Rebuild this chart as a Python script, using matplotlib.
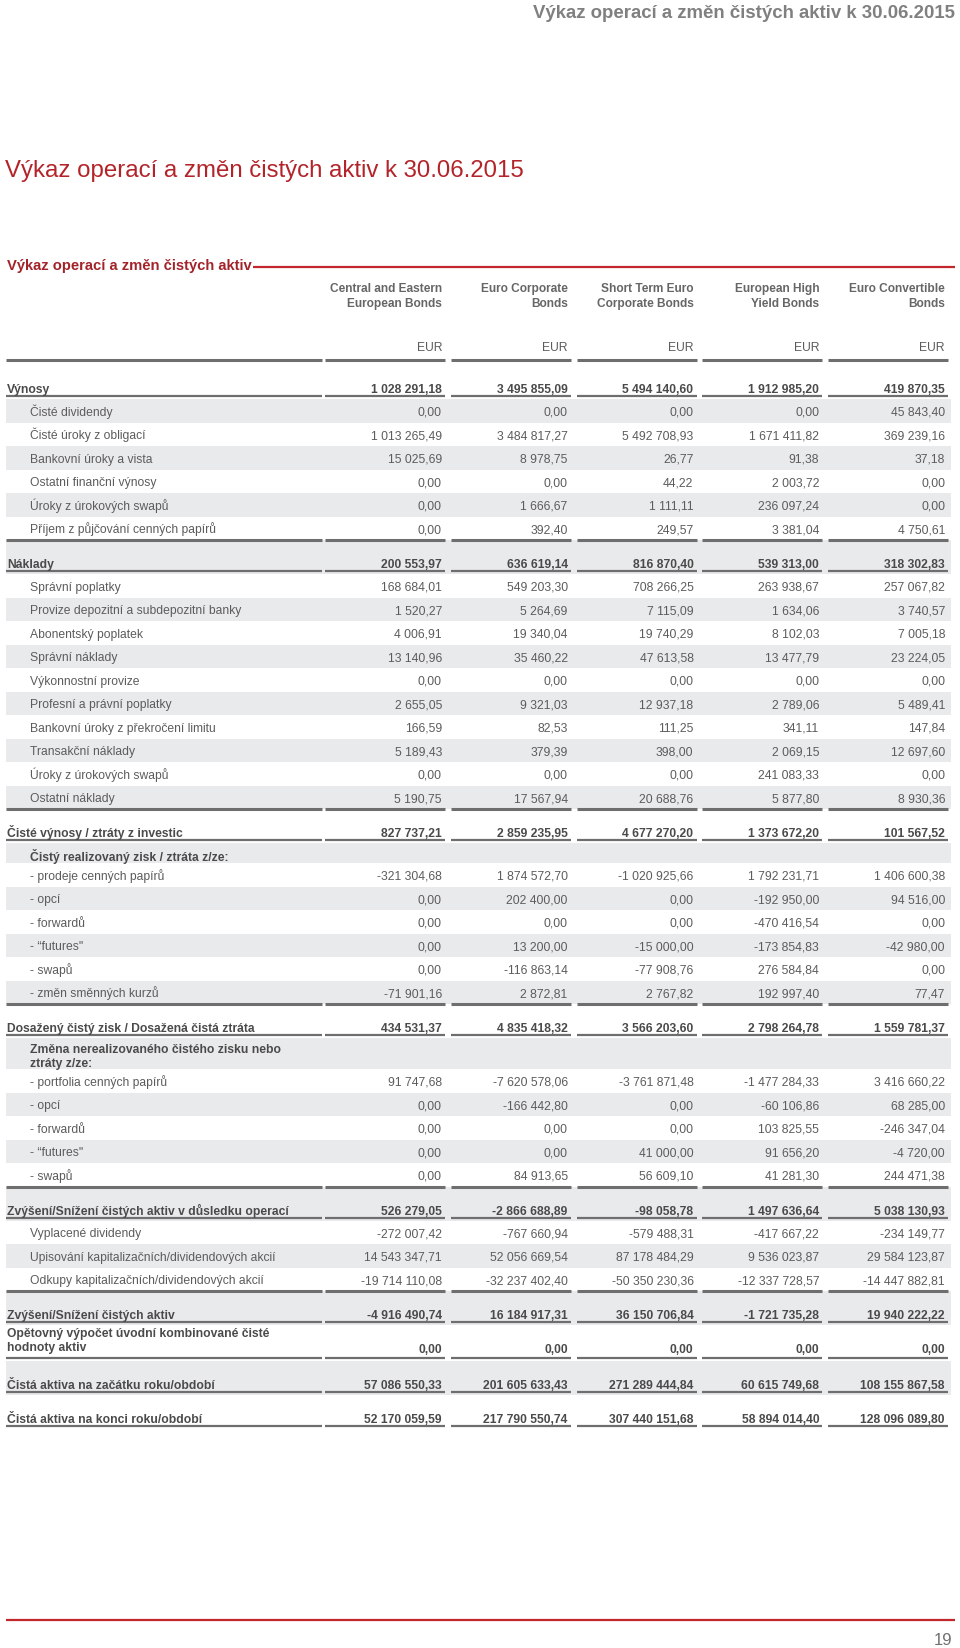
import matplotlib
matplotlib.use("Agg")
import matplotlib.pyplot as plt
from matplotlib.patches import Rectangle

plt.rcParams['font.family'] = ['Liberation Sans', 'DejaVu Sans']

# ---- data -------------------------------------------------------------
page_title = "Výkaz operací a změn čistých aktiv k 30.06.2015"
table_title = "Výkaz operací a změn čistých aktiv"
page_no = "19"

funds = ["Central and Eastern\nEuropean Bonds", "Euro Corporate\nBonds",
         "Short Term Euro\nCorporate Bonds", "European High\nYield Bonds",
         "Euro Convertible\nBonds"]
currency = ["EUR", "EUR", "EUR", "EUR", "EUR"]

labels = [
    "Výnosy",
    "Čisté dividendy",
    "Čisté úroky z obligací",
    "Bankovní úroky a vista",
    "Ostatní finanční výnosy",
    "Úroky z úrokových swapů",
    "Příjem z půjčování cenných papírů",
    "Náklady",
    "Správní poplatky",
    "Provize depozitní a subdepozitní banky",
    "Abonentský poplatek",
    "Správní náklady",
    "Výkonnostní provize",
    "Profesní a právní poplatky",
    "Bankovní úroky z překročení limitu",
    "Transakční náklady",
    "Úroky z úrokových swapů",
    "Ostatní náklady",
    "Čisté výnosy / ztráty z investic",
    "Čistý realizovaný zisk / ztráta z/ze:",
    "- prodeje cenných papírů",
    "- opcí",
    "- forwardů",
    "- “futures\"",
    "- swapů",
    "- změn směnných kurzů",
    "Dosažený čistý zisk / Dosažená čistá ztráta",
    "Změna nerealizovaného čistého zisku nebo\nztráty z/ze:",
    "- portfolia cenných papírů",
    "- opcí",
    "- forwardů",
    "- “futures\"",
    "- swapů",
    "Zvýšení/Snížení čistých aktiv v důsledku operací",
    "Vyplacené dividendy",
    "Upisování kapitalizačních/dividendových akcií",
    "Odkupy kapitalizačních/dividendových akcií",
    "Zvýšení/Snížení čistých aktiv",
    "Opětovný výpočet úvodní kombinované čisté\nhodnoty aktiv",
    "Čistá aktiva na začátku roku/období",
    "Čistá aktiva na konci roku/období",
]

cee_bonds = [1028291.18, 0.00, 1013265.49, 15025.69, 0.00, 0.00, 0.00,
             200553.97, 168684.01, 1520.27, 4006.91, 13140.96, 0.00, 2655.05,
             166.59, 5189.43, 0.00, 5190.75,
             827737.21, None, -321304.68, 0.00, 0.00, 0.00, 0.00, -71901.16,
             434531.37, None, 91747.68, 0.00, 0.00, 0.00, 0.00,
             526279.05, -272007.42, 14543347.71, -19714110.08,
             -4916490.74, 0.00, 57086550.33, 52170059.59]
euro_corp = [3495855.09, 0.00, 3484817.27, 8978.75, 0.00, 1666.67, 392.40,
             636619.14, 549203.30, 5264.69, 19340.04, 35460.22, 0.00, 9321.03,
             82.53, 379.39, 0.00, 17567.94,
             2859235.95, None, 1874572.70, 202400.00, 0.00, 13200.00, -116863.14, 2872.81,
             4835418.32, None, -7620578.06, -166442.80, 0.00, 0.00, 84913.65,
             -2866688.89, -767660.94, 52056669.54, -32237402.40,
             16184917.31, 0.00, 201605633.43, 217790550.74]
short_term = [5494140.60, 0.00, 5492708.93, 26.77, 44.22, 1111.11, 249.57,
              816870.40, 708266.25, 7115.09, 19740.29, 47613.58, 0.00, 12937.18,
              111.25, 398.00, 0.00, 20688.76,
              4677270.20, None, -1020925.66, 0.00, 0.00, -15000.00, -77908.76, 2767.82,
              3566203.60, None, -3761871.48, 0.00, 0.00, 41000.00, 56609.10,
              -98058.78, -579488.31, 87178484.29, -50350230.36,
              36150706.84, 0.00, 271289444.84, 307440151.68]
high_yield = [1912985.20, 0.00, 1671411.82, 91.38, 2003.72, 236097.24, 3381.04,
              539313.00, 263938.67, 1634.06, 8102.03, 13477.79, 0.00, 2789.06,
              341.11, 2069.15, 241083.33, 5877.80,
              1373672.20, None, 1792231.71, -192950.00, -470416.54, -173854.83, 276584.84, 192997.40,
              2798264.78, None, -1477284.33, -60106.86, 103825.55, 91656.20, 41281.30,
              1497636.64, -417667.22, 9536023.87, -12337728.57,
              -1721735.28, 0.00, 60615749.68, 58894014.40]
convertible = [419870.35, 45843.40, 369239.16, 37.18, 0.00, 0.00, 4750.61,
               318302.83, 257067.82, 3740.57, 7005.18, 23224.05, 0.00, 5489.41,
               147.84, 12697.60, 0.00, 8930.36,
               101567.52, None, 1406600.38, 94516.00, 0.00, -42980.00, 0.00, 77.47,
               1559781.37, None, 3416660.22, 68285.00, -246347.04, -4720.00, 244471.38,
               5038130.93, -234149.77, 29584123.87, -14447882.81,
               19940222.22, 0.00, 108155867.58, 128096089.80]
columns = [cee_bonds, euro_corp, short_term, high_yield, convertible]

# row kinds: total = bold line with underline, item = indented line,
# sub = bold indented heading without values, total2 = two-line total
kinds = (["total"] + ["item"] * 6 + ["total"] + ["item"] * 10 +
         ["total", "sub"] + ["item"] * 6 +
         ["total", "sub2"] + ["item"] * 5 +
         ["total"] + ["item"] * 3 +
         ["total", "total2", "total", "total"])

# ---- style ------------------------------------------------------------
RED = "#b3242a"
GREY_TXT = "#5c5c5c"
BOLD_TXT = "#4a4a4a"
LINE = "#6e6e6e"
BAND = "#e9eaeb"
FS = 8.7
BL = 4.2   # baseline offset from row centre, px
heights = {"total": 34, "item": 23.5, "sub": 20, "sub2": 31, "total2": 36}

col_right = [445 + 125.75 * i for i in range(5)]
col_w = 120
label_x0, label_x1 = 6, 322


def cz(v):
    s = f"{abs(v):,.2f}".replace(",", " ").replace(".", ",")
    return ("-" if v < 0 else "") + s


fig = plt.figure(figsize=(9.6, 16.49), dpi=100)
ax = fig.add_axes([0, 0, 1, 1])
ax.set_xlim(0, 960)
ax.set_ylim(1649, 0)
ax.axis("off")


def rule(y, lw):
    ax.hlines(y, label_x0, label_x1, color=LINE, lw=lw, zorder=2)
    for r in col_right:
        ax.hlines(y, r - col_w, r, color=LINE, lw=lw, zorder=2)


# page header and titles
ax.text(955, 17.5, page_title, fontsize=13.4, fontweight="bold",
        color="#808080", ha="right", va="baseline")
ax.text(5, 177, page_title, fontsize=17.3, color=RED,
        ha="left", va="baseline")
ax.text(7, 270, table_title, fontsize=10.6, fontweight="bold",
        color="#a3232a", ha="left", va="baseline")
ax.hlines(268, 253, 955, color="#c1272d", lw=1.6)

# column heads
for r, name, cur in zip(col_right, funds, currency):
    ax.text(r - 3, 296.5, name, fontsize=8.6, fontweight="bold", color="#666666",
            ha="right", va="center", multialignment="right", linespacing=1.4)
    ax.text(r - 3, 347 + BL, cur, fontsize=FS, color=GREY_TXT, ha="right", va="baseline")
rule(361, 2.2)

# table body
y = 366
prev = None
for i, (lab, kind) in enumerate(zip(labels, kinds)):
    h = heights[kind]
    vals = [c[i] for c in columns]
    if i % 2 == 1:
        ax.add_patch(Rectangle((6, y), 945, h, facecolor=BAND, edgecolor="none", zorder=0))
    if kind == "total" and prev == "item":
        rule(y, 2.2)
    if kind == "item":
        ty = y + h / 2 + BL
        ax.text(30, ty, lab, fontsize=FS, color=GREY_TXT, ha="left", va="baseline")
        for r, v in zip(col_right, vals):
            ax.text(r - 3, ty, cz(v), fontsize=FS, color=GREY_TXT, ha="right", va="baseline")
    elif kind == "total":
        ty = y + 23 + BL
        ax.text(7, ty, lab, fontsize=FS, fontweight="bold", color=BOLD_TXT,
                ha="left", va="baseline")
        for r, v in zip(col_right, vals):
            ax.text(r - 3, ty, cz(v), fontsize=FS, fontweight="bold", color=BOLD_TXT,
                    ha="right", va="baseline")
        rule(y + 31, 1.6)
    elif kind == "total2":
        ax.text(7, y + 15, lab, fontsize=FS, fontweight="bold", color=BOLD_TXT,
                ha="left", va="center", linespacing=1.2)
        for r, v in zip(col_right, vals):
            ax.text(r - 3, y + 23 + BL, cz(v), fontsize=FS, fontweight="bold", color=BOLD_TXT,
                    ha="right", va="baseline")
        rule(y + 33, 1.6)
    elif kind == "sub":
        ax.text(30, y + 13 + BL, lab, fontsize=FS, fontweight="bold", color=BOLD_TXT,
                ha="left", va="baseline")
    elif kind == "sub2":
        ax.text(30, y + 18, lab, fontsize=FS, fontweight="bold", color=BOLD_TXT,
                ha="left", va="center", linespacing=1.2)
    prev = kind
    y += h

# footer
ax.hlines(1621, 6, 955, color="#c1272d", lw=1.6)
ax.text(952, 1641, page_no, fontsize=12, color="#707070",
        ha="right", va="center")

fig.savefig("out.png", dpi=100)
